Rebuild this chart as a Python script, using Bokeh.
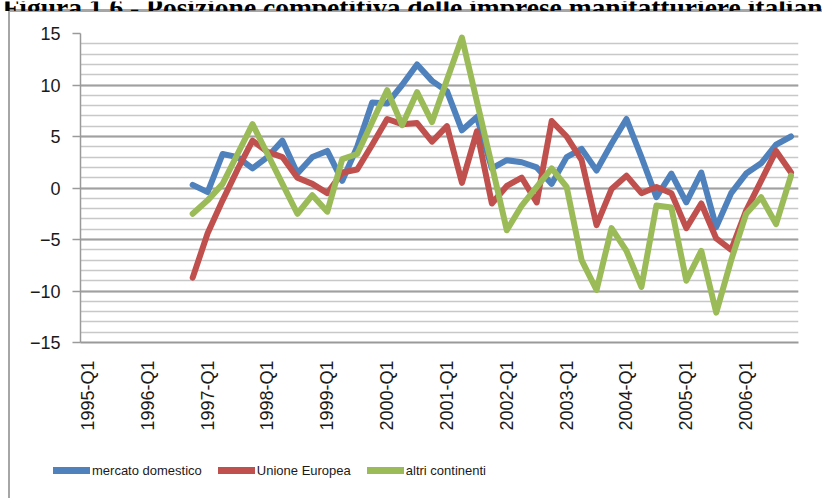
import numpy as np
from bokeh.plotting import figure
from bokeh.models import (Range1d, FixedTicker, SingleIntervalTicker, Legend, LegendItem)
from bokeh.core.properties import value
from bokeh.embed import file_html
from bokeh.resources import INLINE

nan = np.nan

title_text = "Figura 1.6 - Posizione competitiva delle imprese manifatturiere italiane"

quarters = [f"{y}-Q{q}" for y in range(1995, 2007) for q in range(1, 5)]
tick_labels = ["1995-Q1", "1996-Q1", "1997-Q1", "1998-Q1", "1999-Q1", "2000-Q1",
               "2001-Q1", "2002-Q1", "2003-Q1", "2004-Q1", "2005-Q1", "2006-Q1"]

mercato_domestico = [nan, nan, nan, nan, nan, nan, nan,
                     0.3, -0.4, 3.3, 3.0, 1.9, 3.0, 4.6, 1.4, 3.0, 3.6,
                     0.7, 4.0, 8.3, 8.2, 10.0, 12.0, 10.4, 9.4, 5.6, 6.9,
                     1.9, 2.7, 2.5, 2.0, 0.4, 3.0, 3.8, 1.7, 4.3, 6.7,
                     3.0, -0.9, 1.4, -1.4, 1.5, -3.8, -0.5, 1.4, 2.4, 4.2, 5.0]

unione_europea = [nan, nan, nan, nan, nan, nan, nan,
                  -8.7, -4.4, -1.2, 1.8, 4.6, 3.5, 3.0, 1.0, 0.4, -0.5,
                  1.5, 1.8, 4.2, 6.7, 6.2, 6.3, 4.5, 6.0, 0.5, 5.5,
                  -1.5, 0.2, 1.0, -1.4, 6.5, 5.0, 2.7, -3.6, -0.1, 1.2,
                  -0.5, 0.1, -0.5, -3.9, -1.5, -4.9, -6.0, -2.2, 0.7, 3.6, 1.5]

altri_continenti = [nan, nan, nan, nan, nan, nan, nan,
                    -2.5, -1.2, 0.4, 3.3, 6.2, 3.3, 0.4, -2.5, -0.7, -2.3,
                    2.8, 3.3, 6.4, 9.5, 6.1, 9.3, 6.4, 10.5, 14.6, 8.4,
                    2.2, -4.1, -1.7, 0.1, 1.9, 0.1, -7.0, -9.9, -3.9, -6.1,
                    -9.6, -1.7, -1.9, -9.0, -6.1, -12.1, -7.0, -2.5, -0.9, -3.5, 1.2]

series_names = ["mercato domestico", "Unione Europea", "altri continenti"]
series_colors = ["#4F81BD", "#C0504D", "#9BBB59"]

x = list(range(len(quarters)))

GREY = "#a6a6a6"

# ---- title strip (title mostly cut off at the top, as in the reference) ----
title_css = (f"linear-gradient({GREY}, {GREY}) 8px 100% / 100% 2px no-repeat, "
             f"linear-gradient({GREY}, {GREY}) 8px 100% / 2px 2px no-repeat, #ffffff")
t = figure(width=822, height=11, x_range=Range1d(0, 822), y_range=Range1d(0, 11),
           output_backend="svg", toolbar_location=None,
           x_axis_location=None, y_axis_location=None,
           min_border_left=0, min_border_right=0, min_border_top=0, min_border_bottom=0,
           styles={"background": title_css})
t.grid.visible = False
t.outline_line_color = None
t.background_fill_color = None
t.border_fill_color = None
t.text(x=[2], y=[5], text=[title_text], text_font=value("Liberation Serif"),
       text_font_style="bold", text_font_size="27.5px", text_color="#000000",
       text_baseline="alphabetic", text_align="left")

# ---- main chart ----
main_css = (f"linear-gradient({GREY}, {GREY}) 8px 0px / 2px 100% no-repeat, "
            f"linear-gradient({GREY}, {GREY}) 8px 0px / 100% 1px no-repeat, #ffffff")

p = figure(width=822, height=434,
           x_range=Range1d(-0.5, len(quarters) - 0.5),
           y_range=Range1d(-15, 15),
           output_backend="svg", toolbar_location=None,
           min_border_left=80, min_border_right=24,
           min_border_top=22, min_border_bottom=103,
           styles={"background": main_css})

p.background_fill_color = "white"
p.border_fill_color = None
p.outline_line_color = None

yticker = SingleIntervalTicker(interval=5, num_minor_ticks=5)
p.yaxis.ticker = yticker
p.ygrid.ticker = yticker
p.ygrid.grid_line_color = "#a0a0a0"
p.ygrid.grid_line_width = 2
p.ygrid.minor_grid_line_color = "#c8c8c8"
p.ygrid.minor_grid_line_width = 1.5
p.xgrid.visible = False

p.yaxis.axis_line_color = "#9a9a9a"
p.yaxis.axis_line_width = 1.5
p.yaxis.major_tick_line_color = "#9a9a9a"
p.yaxis.major_tick_line_width = 1.5
p.yaxis.major_tick_out = 8
p.yaxis.major_tick_in = 0
p.yaxis.minor_tick_line_color = None
p.yaxis.major_label_standoff = 12
p.yaxis.major_label_text_font = "Liberation Sans"
p.yaxis.major_label_text_font_size = "18px"
p.yaxis.major_label_text_color = "#1a1a1a"

tick_positions = [quarters.index(tl) for tl in tick_labels]
p.xaxis.ticker = FixedTicker(ticks=tick_positions)
p.xaxis.major_label_overrides = {i: tl for i, tl in zip(tick_positions, tick_labels)}
p.xaxis.major_label_orientation = np.pi / 2
p.xaxis.major_tick_line_color = None
p.xaxis.minor_tick_line_color = None
p.xaxis.axis_line_color = "#9a9a9a"
p.xaxis.axis_line_width = 2
p.xaxis.major_label_standoff = 12
p.xaxis.major_label_text_font = "Liberation Sans"
p.xaxis.major_label_text_font_size = "18px"
p.xaxis.major_label_text_color = "#1a1a1a"

for vals, col in zip([mercato_domestico, unione_europea, altri_continenti], series_colors):
    p.line(x, vals, line_color=col, line_width=6, line_join="round", line_cap="round")

# ---- legend strip ----
leg_css = f"linear-gradient({GREY}, {GREY}) 8px 0px / 2px 100% no-repeat, #ffffff"
lg = figure(width=822, height=53, x_range=Range1d(0, 822), y_range=Range1d(0, 53),
            output_backend="svg", toolbar_location=None,
            x_axis_location=None, y_axis_location=None,
            min_border_left=0, min_border_right=0, min_border_top=0, min_border_bottom=0,
            styles={"background": leg_css})
lg.grid.visible = False
lg.outline_line_color = None
lg.background_fill_color = None
lg.border_fill_color = None

swatches = []
for col in series_colors:
    swatches.append(lg.line(x=[nan], y=[nan], line_color=col, line_width=7, line_cap="round"))

legend = Legend(items=[LegendItem(label=n, renderers=[r]) for n, r in zip(series_names, swatches)],
                orientation="horizontal", location=(53, 18),
                glyph_width=37, glyph_height=20, label_height=20,
                label_standoff=2, spacing=16, padding=0, margin=0,
                border_line_color=None, background_fill_alpha=0,
                label_text_font="Liberation Sans", label_text_font_size="13px",
                label_text_color="#1a1a1a")
lg.add_layout(legend)

open("out.html", "w").write(file_html((t, p, lg), INLINE))
